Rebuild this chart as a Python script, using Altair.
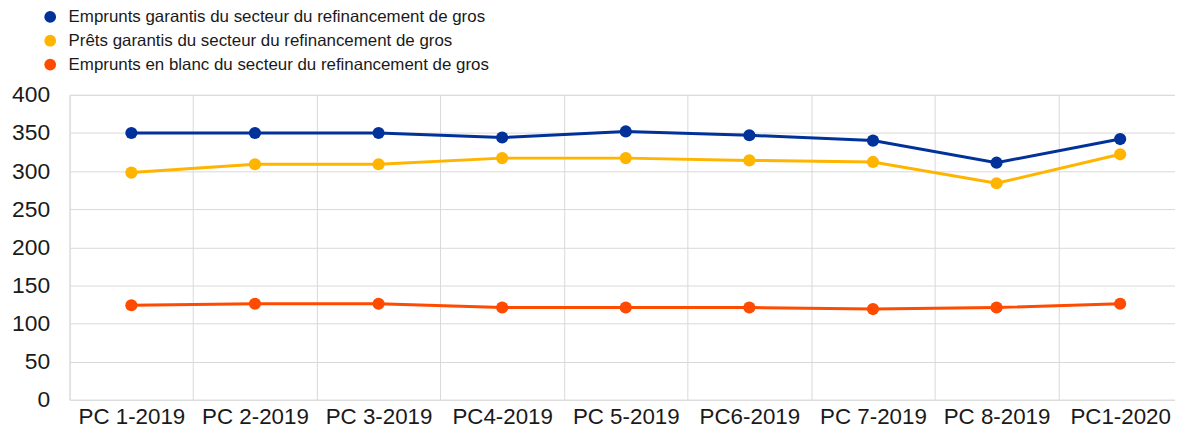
import altair as alt
import pandas as pd

categories = ["PC 1-2019", "PC 2-2019", "PC 3-2019", "PC4-2019", "PC 5-2019",
              "PC6-2019", "PC 7-2019", "PC 8-2019", "PC1-2020"]
series_names = [
    "Emprunts garantis du secteur du refinancement de gros",
    "Prêts garantis du secteur du refinancement de gros",
    "Emprunts en blanc du secteur du refinancement de gros",
]
emprunts_garantis = [350, 350, 350, 344, 352, 347, 340, 311, 342]
prets_garantis = [298, 309, 309, 317, 317, 314, 312, 284, 322]
emprunts_blanc = [124, 126, 126, 121, 121, 121, 119, 121, 126]
colors = ["#003299", "#FFB400", "#FF4B00"]
y_ticks = [0, 50, 100, 150, 200, 250, 300, 350, 400]

rows = []
for name, vals in zip(series_names, [emprunts_garantis, prets_garantis, emprunts_blanc]):
    for c, v in zip(categories, vals):
        rows.append({"cat": c, "series": name, "value": v})
df = pd.DataFrame(rows)

FONT = "Liberation Sans"

x = alt.X("cat:N", sort=categories, title=None,
          scale=alt.Scale(type="band", paddingInner=0, paddingOuter=0),
          axis=alt.Axis(labelAngle=0, tickBand="extent", grid=True, ticks=False,
                        domain=False, labelFontSize=22.5, labelPadding=6,
                        labelColor="#1a1a1a", labelFont=FONT, gridColor="#d9d9d9"))
y = alt.Y("value:Q", title=None,
          scale=alt.Scale(domain=[0, 400], nice=False),
          axis=alt.Axis(values=y_ticks, ticks=False, domain=False, labelFontSize=23,
                        labelPadding=20, labelColor="#1a1a1a", labelFont=FONT,
                        gridColor="#d9d9d9"))

lines = alt.Chart(df).mark_line(strokeWidth=3).encode(
    x=x, y=y,
    stroke=alt.Stroke("series:N", scale=alt.Scale(domain=series_names, range=colors),
                      sort=series_names, legend=None),
    detail="series:N",
)
points = alt.Chart(df).mark_point(filled=True, size=150, opacity=1).encode(
    x=x, y=y,
    color=alt.Color("series:N", scale=alt.Scale(domain=series_names, range=colors),
                    sort=series_names,
                    legend=alt.Legend(title=None, orient="none", legendX=-28, legendY=-87,
                                      direction="vertical", symbolType="circle",
                                      symbolSize=140, labelFontSize=17, labelFont=FONT,
                                      labelColor="#1a1a1a", rowPadding=6, labelLimit=0,
                                      symbolOffset=0, labelOffset=10, padding=0)),
)

chart = alt.layer(lines, points).resolve_scale(color="independent").properties(
    width=1120, height=307,
    autosize=alt.AutoSizeParams(type="none"),
    padding={"left": 62, "top": 86, "right": -7, "bottom": 30},
).configure_view(stroke=None).configure(font=FONT)

chart.save("out.html", embed_options={"renderer": "svg", "actions": False})
